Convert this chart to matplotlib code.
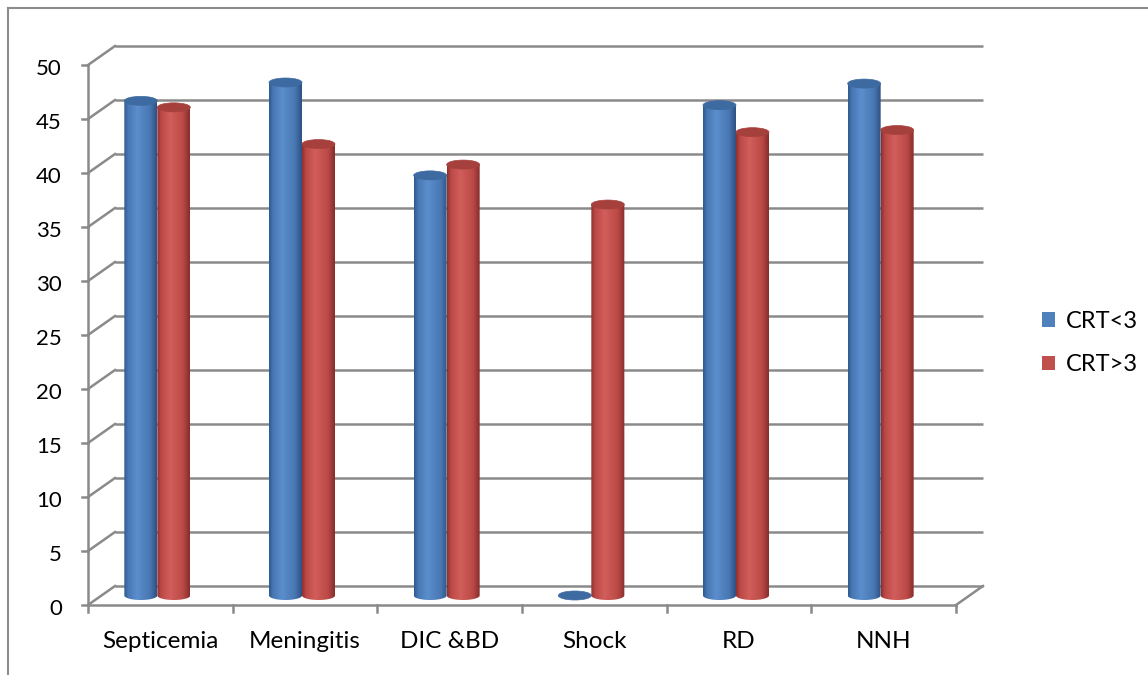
import numpy as np
import matplotlib
matplotlib.use("Agg")
import matplotlib.pyplot as plt
from matplotlib.colors import LinearSegmentedColormap
from matplotlib.patches import Ellipse, Polygon, Patch
from matplotlib.lines import Line2D

categories = ["Septicemia", "Meningitis", "DIC &BD", "Shock", "RD", "NNH"]
crt_lt3 = [45.8, 47.5, 38.9, 0, 45.4, 47.4]
crt_gt3 = [45.2, 41.8, 39.9, 36.2, 42.9, 43.1]
series_names = ["CRT<3", "CRT>3"]
yticks = list(range(0, 51, 5))

W, H = 1148, 675
plt.rcParams['font.family'] = ['Lato', 'DejaVu Sans']

fig = plt.figure(figsize=(W / 100, H / 100), dpi=100)
fig.patch.set_facecolor("white")

# front plane of the plot: x 88..956 px, y 605..65 px
ax = fig.add_axes([88 / W, (H - 605) / H, 868 / W, 540 / H])
ncat = len(categories)
px_x = 868 / ncat      # pixels per category
px_y = 540 / 50        # pixels per unit
dx = 27 / px_x         # depth offset of the back wall
dy = 19 / px_y

grid_c = "#8a8a8a"
lw = 1.8

# back wall gridlines + side wall diagonals
for v in yticks:
    ax.plot([dx, ncat + dx], [v + dy, v + dy], color=grid_c, lw=lw, zorder=1,
            clip_on=False, solid_capstyle="butt")
    ax.plot([0, dx], [v, v], color=grid_c, lw=0, zorder=1, clip_on=False)
    ax.plot([0, dx], [v, v + dy], color=grid_c, lw=lw, zorder=1, clip_on=False)
    # y tick marks
    ax.plot([-6 / px_x, 0], [v, v], color=grid_c, lw=lw, zorder=1, clip_on=False)
    ax.text(-26 / px_x, v - 0.35, str(v), ha="right", va="center", fontsize=16,
            color="black", clip_on=False)

# floor
ax.plot([0, ncat], [0, 0], color=grid_c, lw=lw, zorder=1, clip_on=False)
ax.plot([ncat, ncat + dx], [0, dy], color=grid_c, lw=lw, zorder=1, clip_on=False)
ax.plot([0, 0], [0, 50], color=grid_c, lw=lw, zorder=1, clip_on=False)
for i in range(ncat + 1):
    ax.plot([i, i], [0, -7 / px_y], color=grid_c, lw=lw, zorder=1, clip_on=False)

for i, name in enumerate(categories):
    ax.text(i + 0.5, -36 / px_y, name, ha="center", va="center", fontsize=17.5,
            color="black", clip_on=False)

blue_cmap = LinearSegmentedColormap.from_list(
    "b", [(0, "#2f5a8f"), (0.12, "#4878b4"), (0.4, "#5b8ecd"), (0.8, "#4877b2"),
          (1, "#2d5282")])
red_cmap = LinearSegmentedColormap.from_list(
    "r", [(0, "#8f312f"), (0.12, "#bb4946"), (0.4, "#d25e5b"), (0.8, "#ba4946"),
          (1, "#882d2b")])
grad = np.linspace(0, 1, 64).reshape(1, -1)

ell_b = 4.5 / px_y
base = dy / 2
bw = 33 / px_x
shift = -3 / px_x


def cylinder(x0, value, cmap, top_color, z):
    top = base + value
    t = np.linspace(np.pi, 2 * np.pi, 50)
    xs = x0 + bw / 2 + bw / 2 * np.cos(t)
    ys = base + ell_b * np.sin(t)
    verts = [(x0, top)] + list(zip(xs, ys)) + [(x0 + bw, top)]
    poly = Polygon(verts, closed=True, facecolor="none", edgecolor="none")
    ax.add_patch(poly)
    if value > 0:
        im = ax.imshow(grad, extent=(x0, x0 + bw, base - ell_b, top), cmap=cmap,
                       aspect="auto", interpolation="bilinear", zorder=z)
        im.set_clip_path(poly)
    ax.add_patch(Ellipse((x0 + bw / 2, top), bw, 2 * ell_b, facecolor=top_color,
                         edgecolor=top_color, lw=0.5, zorder=z + 0.1))


for i in range(ncat):
    c = i + 0.5 + shift
    cylinder(c - bw, crt_lt3[i], blue_cmap, "#3d6aa1", 3 + i)
    cylinder(c, crt_gt3[i], red_cmap, "#a6403d", 3.5 + i)

ax.set_xlim(0, ncat)
ax.set_ylim(0, 50)
ax.axis("off")

# legend
handles = [Patch(facecolor="#4f81bd", edgecolor="none"),
           Patch(facecolor="#c0504d", edgecolor="none")]
fig.legend(handles, series_names, loc="center left",
           bbox_to_anchor=(1033 / W, 1 - 343 / H), frameon=False, fontsize=17,
           handlelength=0.55, handleheight=0.55, handletextpad=0.45,
           labelspacing=0.95, borderaxespad=0)

# chart area border (left and top edges visible)
fig.add_artist(Line2D([7.5 / W, 7.5 / W], [0, 1 - 7.5 / H], color="#8c8c8c", lw=1.5))
fig.add_artist(Line2D([7.5 / W, 1], [1 - 7.5 / H, 1 - 7.5 / H], color="#8c8c8c", lw=1.5))

fig.savefig("out.png", dpi=100, facecolor="white")
